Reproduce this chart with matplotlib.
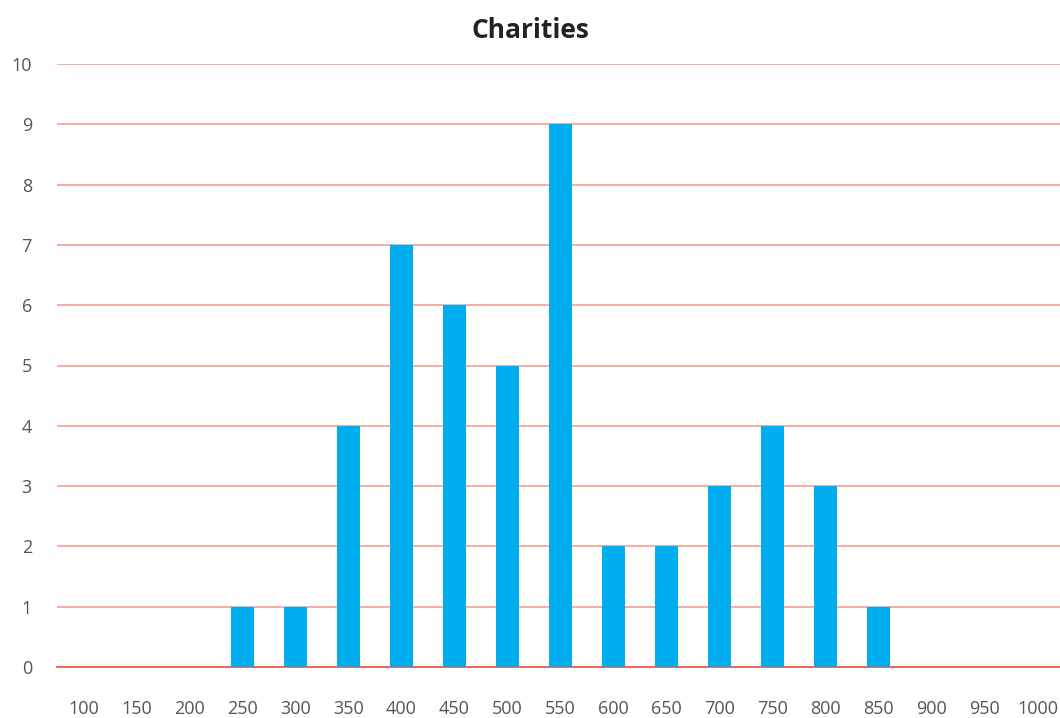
import matplotlib.pyplot as plt
import numpy as np

# 捐款金额分组与对应数量
amounts = ['100', '150', '200', '250', '300', '350', '400', '450', '500', '550',
           '600', '650', '700', '750', '800', '850', '900', '950', '1000']
counts = [0, 0, 0, 1, 1, 4, 7, 6, 5, 9, 2, 2, 3, 4, 3, 1, 0, 0, 0]

plt.rcParams['font.family'] = ['Open Sans', 'DejaVu Sans']

fig = plt.figure(figsize=(10.6, 7.18), dpi=100)
ax = fig.add_axes([57 / 1060, 1 - 667 / 718, 1007 / 1060, (667 - 64) / 718])

x = np.arange(len(amounts))
ax.bar(x, counts, width=0.43, color='#00AEEF', zorder=3)

ax.set_xlim(-0.5, len(amounts) - 0.5)
ax.set_ylim(0, 10)
ax.set_yticks(range(0, 11))
ax.set_xticks(x)
ax.set_xticklabels(amounts)

# 网格线
ax.grid(axis='y', color='#F4A79C', linewidth=1.3, zorder=0)
ax.grid(axis='x', visible=False)
for s in ['top', 'right', 'left']:
    ax.spines[s].set_visible(False)
ax.spines['bottom'].set_color('#E8604C')
ax.spines['bottom'].set_linewidth(1.3)

ax.tick_params(axis='both', length=0, labelsize=13, colors='#555555')
ax.tick_params(axis='x', pad=24)
ax.tick_params(axis='y', pad=18)

fig.text(0.5, 1 - 30 / 718, 'Charities', ha='center', va='center',
         fontsize=19, fontweight='bold', color='#222222')

fig.savefig('out.png', dpi=100)
